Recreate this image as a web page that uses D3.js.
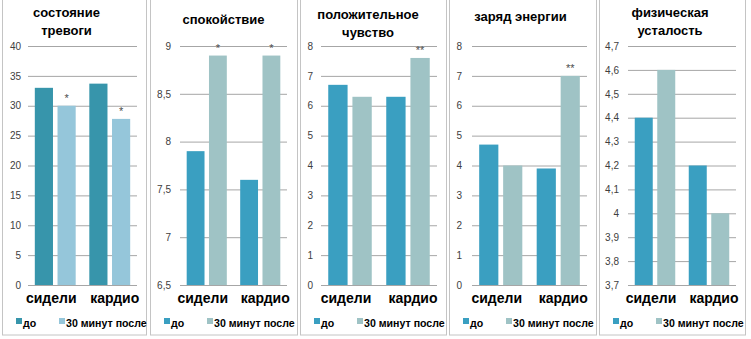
<!DOCTYPE html>
<html><head><meta charset="utf-8">
<script src="https://cdn.jsdelivr.net/npm/d3@7"></script>
<style>
html,body{margin:0;padding:0;background:#fff;}
svg{display:block;font-family:"Liberation Sans",Arial,sans-serif;}
</style></head>
<body>
<svg id="c" width="751" height="339"></svg>
<script>
// ---- data ----
const categories = ["сидели", "кардио"];
const seriesNames = ["до", "30 минут после"];
const titles = [
  ["состояние", "тревоги"],
  ["спокойствие"],
  ["положительное", "чувство"],
  ["заряд энергии"],
  ["физическая", "усталость"]
];
// values: [panel][category] = [до, после]
const anxiety   = [[33.0, 30.0], [33.7, 27.8]];
const calmness  = [[7.9, 8.9], [7.6, 8.9]];
const positive  = [[6.7, 6.3], [6.3, 7.6]];
const energy    = [[4.7, 4.0], [3.9, 7.0]];
const fatigue   = [[4.4, 4.6], [4.2, 4.0]];
const values = [anxiety, calmness, positive, energy, fatigue];
// significance marks above "после" bars
const marks = [["*", "*"], ["*", "*"], ["", "**"], ["", "**"], ["", ""]];
// axis domains and tick labels
const yDomains = [[0, 40], [6.5, 9], [0, 8], [0, 8], [3.7, 4.7]];
const yTicks = [
  [0, 5, 10, 15, 20, 25, 30, 35, 40],
  [6.5, 7, 7.5, 8, 8.5, 9],
  [0, 1, 2, 3, 4, 5, 6, 7, 8],
  [0, 1, 2, 3, 4, 5, 6, 7, 8],
  [3.7, 3.8, 3.9, 4.0, 4.1, 4.2, 4.3, 4.4, 4.5, 4.6, 4.7]
];

// ---- layout (not data) ----
const layout = [
  {box: [2, 147],   lab: 21,  grid: [28, 137],  tdx: -16, ty: 17},
  {box: [150, 298], lab: 171, grid: [180, 287], tdx: -10, ty: 24},
  {box: [300, 447], lab: 313, grid: [321, 437], tdx: -11, ty: 19},
  {box: [449, 597], lab: 462, grid: [472, 587], tdx: -9,  ty: 21},
  {box: [599, 746], lab: 619, grid: [628, 736], tdx: -12, ty: 17}
];
const catDx = [-4, 5];
const colorSets = [
  ["#3795ab", "#95c6da"],
  ["#3a9fc1", "#9fc3c5"],
  ["#3a9fc1", "#9fc3c5"],
  ["#3a9fc1", "#9fc3c5"],
  ["#3a9fc1", "#9fc3c5"]
];
const fmt = v => String(+v.toFixed(2)).replace(".", ",");

const svg = d3.select("#c");
const defs = svg.append("defs");

layout.forEach((L, i) => {
  const clipId = "clip" + i;
  defs.append("clipPath").attr("id", clipId).append("rect")
    .attr("x", L.box[0]).attr("y", 0).attr("width", L.box[1] - L.box[0]).attr("height", 336);
  const g = svg.append("g").attr("clip-path", `url(#${clipId})`);
  g.append("rect").attr("x", L.box[0] + 0.5).attr("y", -1).attr("width", L.box[1] - L.box[0] - 1).attr("height", 336)
    .attr("fill", "#fff").attr("stroke", "#c4c4c4");

  const y = d3.scaleLinear().domain(yDomains[i]).range([285, 46]);
  const x0 = d3.scaleBand().domain(categories).range(L.grid).paddingInner(0).paddingOuter(0);
  const x1 = d3.scaleBand().domain([0, 1]).range([0, x0.bandwidth()]).paddingInner(0.2).paddingOuter(0.3);

  // gridlines + labels via axis
  const ax = d3.axisLeft(y).tickValues(yTicks[i]).tickFormat(fmt).tickSize(-(L.grid[1] - L.grid[0])).tickPadding(L.grid[0] - L.lab);
  const ag = g.append("g").attr("transform", `translate(${L.grid[0]},0)`).call(ax);
  ag.select(".domain").remove();
  ag.selectAll(".tick line").attr("stroke", "#a6a6a6").attr("stroke-width", 1);
  ag.selectAll(".tick text").attr("fill", "#404040").style("font-family", "'Liberation Sans',Arial,sans-serif").style("font-size", "10px");

  // bars
  categories.forEach((c, ci) => {
    values[i][ci].forEach((v, si) => {
      g.append("rect")
        .attr("x", x0(c) + x1(si)).attr("width", x1.bandwidth())
        .attr("y", y(v)).attr("height", y(yDomains[i][0]) - y(v))
        .attr("fill", colorSets[i][si]);
    });
    const m = marks[i][ci];
    if (m) {
      g.append("text").attr("x", x0(c) + x1(1) + x1.bandwidth() / 2).attr("y", y(values[i][ci][1]) - 4)
        .attr("text-anchor", "middle").attr("fill", "#4d4d4d")
        .style("font-size", "11px").text(m);
    }
    g.append("text").attr("x", x0(c) + x0.bandwidth() / 2 + catDx[ci]).attr("y", 303)
      .attr("text-anchor", "middle").attr("fill", "#000").style("font-weight", "bold").style("font-size", "14px").text(c);
  });

  // title
  const cx = (L.grid[0] + L.grid[1]) / 2 + L.tdx;
  const tl = titles[i];
  tl.forEach((t, ti) => {
    g.append("text").attr("x", cx).attr("y", L.ty + ti * 18)
      .attr("text-anchor", "middle").attr("fill", "#000").style("font-weight", "bold").style("font-size", "13px").text(t);
  });

  // legend
  const lx = [L.box[0] + 14, L.box[0] + 57];
  seriesNames.forEach((s, si) => {
    g.append("rect").attr("x", lx[si]).attr("y", 318).attr("width", 6).attr("height", 6).attr("fill", colorSets[i][si]);
    g.append("text").attr("x", lx[si] + 7).attr("y", 327).attr("fill", "#000").style("font-weight", "bold").style("font-size", "10.6px").text(s);
  });
});
</script>
</body></html>
